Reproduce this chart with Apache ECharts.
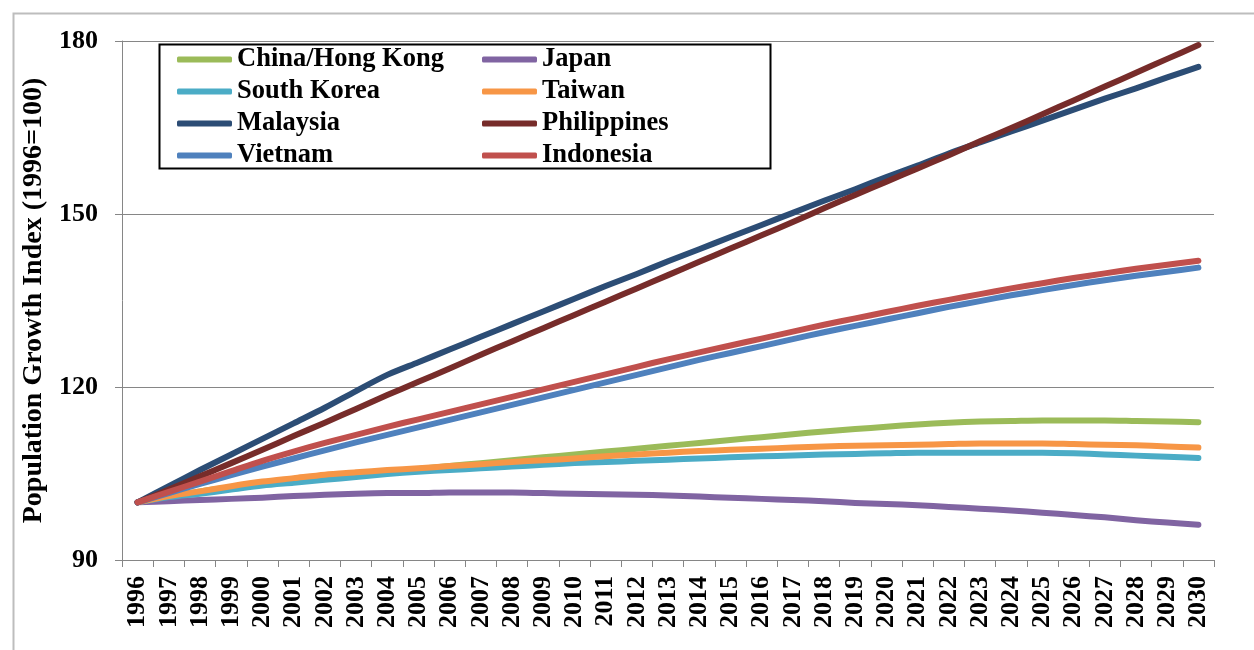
<!DOCTYPE html>
<html>
<head>
<meta charset="utf-8">
<script src="https://cdn.jsdelivr.net/npm/echarts@6/dist/echarts.min.js"></script>
<style>
  html, body { margin: 0; padding: 0; background: #fff; }
  #chart { width: 1254px; height: 650px; }
</style>
</head>
<body>
<div id="chart"></div>
<script>
const years = ['1996','1997','1998','1999','2000','2001','2002','2003','2004','2005','2006','2007',
  '2008','2009','2010','2011','2012','2013','2014','2015','2016','2017','2018','2019','2020','2021',
  '2022','2023','2024','2025','2026','2027','2028','2029','2030']

const chinaHK = [100,101.0,101.9,102.6,103.2,103.8,104.3,104.8,105.3,105.8,106.3,106.8,107.3,107.8,108.3,108.8,109.3,109.8,110.3,110.8,111.3,111.8,112.3,112.7,113.1,113.5,113.8,114.0,114.1,114.2,114.2,114.2,114.1,114.0,113.9]
const japan = [100,100.2,100.4,100.6,100.8,101.1,101.3,101.5,101.6,101.6,101.7,101.7,101.7,101.6,101.5,101.4,101.3,101.2,101.0,100.8,100.6,100.4,100.2,99.9,99.7,99.5,99.2,98.9,98.6,98.2,97.8,97.4,96.9,96.5,96.1]
const southKorea = [100,100.9,101.5,102.2,102.9,103.4,103.9,104.4,104.9,105.3,105.6,105.9,106.2,106.5,106.8,107.0,107.2,107.4,107.6,107.8,108.0,108.1,108.3,108.4,108.5,108.6,108.6,108.6,108.6,108.6,108.5,108.3,108.1,107.9,107.7]
const taiwan = [100,101.1,101.9,102.8,103.6,104.2,104.8,105.2,105.6,105.9,106.3,106.6,107.0,107.3,107.6,108.0,108.3,108.6,108.9,109.1,109.3,109.5,109.7,109.8,109.9,110.0,110.1,110.2,110.2,110.2,110.1,110.0,109.9,109.7,109.5]
const malaysia = [100,102.8,105.6,108.3,111.0,113.7,116.4,119.3,122.1,124.3,126.5,128.7,130.9,133.1,135.3,137.5,139.6,141.8,143.9,146.0,148.1,150.2,152.3,154.3,156.4,158.4,160.5,162.4,164.3,166.2,168.1,170.0,171.8,173.7,175.5]
const philippines = [100,102.2,104.5,106.8,109.1,111.5,113.8,116.2,118.6,120.9,123.2,125.6,127.9,130.2,132.5,134.8,137.1,139.4,141.7,144.0,146.3,148.6,151.0,153.3,155.6,157.9,160.2,162.6,164.9,167.3,169.7,172.1,174.5,176.9,179.3]
const vietnam = [100,101.6,103.2,104.7,106.2,107.6,109.0,110.4,111.7,113.0,114.3,115.6,116.9,118.2,119.5,120.8,122.1,123.4,124.7,125.9,127.1,128.3,129.5,130.6,131.7,132.8,133.9,134.9,135.9,136.8,137.7,138.5,139.3,140.0,140.7]
const indonesia = [100,101.8,103.6,105.4,107.2,108.8,110.3,111.7,113.1,114.4,115.7,117.0,118.3,119.6,120.9,122.2,123.5,124.8,126.0,127.2,128.4,129.6,130.8,131.9,133.0,134.1,135.1,136.1,137.1,138.0,138.9,139.7,140.5,141.2,141.9]

const seriesNames = ['China/Hong Kong','Japan','South Korea','Taiwan','Malaysia','Philippines','Vietnam','Indonesia']
const seriesData = [chinaHK, japan, southKorea, taiwan, malaysia, philippines, vietnam, indonesia]
const seriesColors = ['#9BBB59','#8064A2','#4BACC6','#F79646','#2C4D75','#772C2A','#4F81BD','#C0504D']

const FONT = 'Liberation Serif, Times New Roman, serif'
const AXIS_GREY = '#868686'

const chart = echarts.init(document.getElementById('chart'))

function legendBlock(names, left) {
  return {
    orient: 'vertical',
    left: left,
    top: 46,
    data: names,
    icon: 'roundRect',
    itemWidth: 55,
    itemHeight: 6,
    itemGap: 5,
    padding: 0,
    selectedMode: false,
    textStyle: { fontFamily: FONT, fontWeight: 'bold', fontSize: 26.5, lineHeight: 26, color: '#000' },
  }
}

chart.setOption({
  backgroundColor: '#fff',
  animation: false,
  grid: { left: 122, right: 40, top: 41, bottom: 90, containLabel: false },
  legend: [
    legendBlock(['China/Hong Kong', 'South Korea', 'Malaysia', 'Vietnam'], 177),
    legendBlock(['Japan', 'Taiwan', 'Philippines', 'Indonesia'], 482),
  ],
  graphic: [
    {
      type: 'rect',
      left: 11, top: 11,
      shape: { width: 1300, height: 700 },
      style: { fill: 'none', stroke: '#bdbdbd', lineWidth: 2 },
      silent: true,
      z: -1,
    },
    {
      type: 'rect',
      left: 157, top: 42,
      shape: { width: 611, height: 124 },
      style: { fill: 'none', stroke: '#000', lineWidth: 2 },
      silent: true,
    },
  ],
  xAxis: {
    type: 'category',
    data: years,
    boundaryGap: true,
    axisLine: { lineStyle: { color: AXIS_GREY, width: 1 } },
    axisTick: { show: true, interval: 0, length: 7, lineStyle: { color: AXIS_GREY } },
    axisLabel: {
      interval: 0,
      rotate: 90,
      margin: 16,
      fontFamily: FONT,
      fontWeight: 'bold',
      fontSize: 26,
      color: '#000',
    },
    splitLine: { show: false },
  },
  yAxis: {
    type: 'value',
    min: 90,
    max: 180,
    interval: 30,
    name: 'Population Growth Index (1996=100)',
    nameLocation: 'middle',
    nameGap: 66,
    nameRotate: 90,
    nameTextStyle: { fontFamily: FONT, fontWeight: 'bold', fontSize: 28, color: '#000' },
    axisLine: { show: true, lineStyle: { color: AXIS_GREY, width: 1 } },
    axisTick: { show: true, length: 7, lineStyle: { color: AXIS_GREY } },
    axisLabel: { margin: 24, fontFamily: FONT, fontWeight: 'bold', fontSize: 26, color: '#000' },
    splitLine: { show: true, lineStyle: { color: AXIS_GREY, width: 1 } },
  },
  series: seriesNames.map((name, i) => ({
    name: name,
    type: 'line',
    data: seriesData[i],
    smooth: 0.3,
    symbol: 'none',
    showSymbol: false,
    color: seriesColors[i],
    lineStyle: { width: 6, color: seriesColors[i], cap: 'round', join: 'round' },
    emphasis: { disabled: true },
  })),
})
</script>
</body>
</html>
